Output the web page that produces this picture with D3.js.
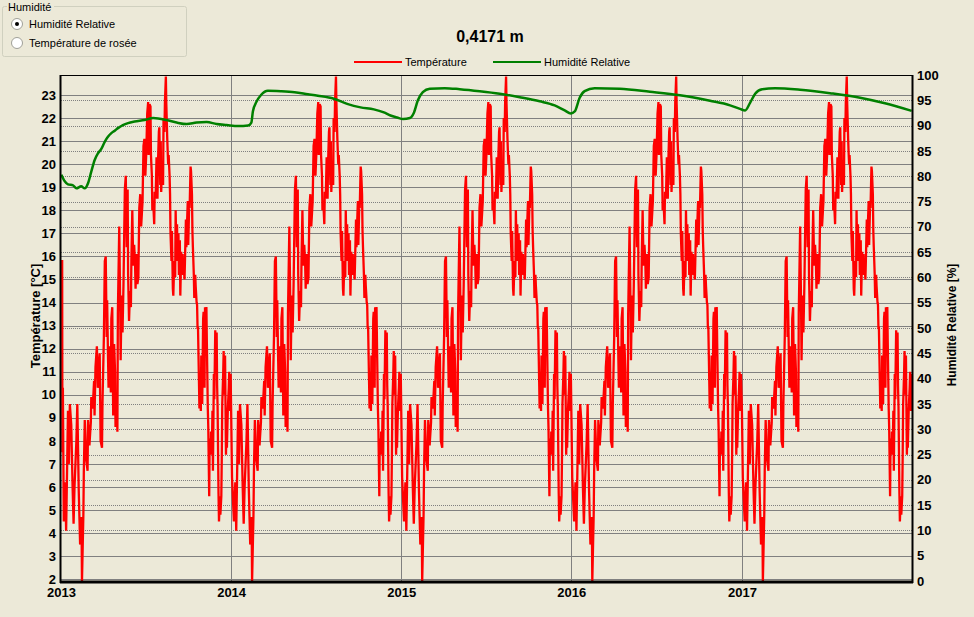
<!DOCTYPE html>
<html><head><meta charset="utf-8">
<script src="https://cdn.jsdelivr.net/npm/d3@7"></script>
<style>
html,body{margin:0;padding:0;background:#ECE9D8;}
svg{display:block;font-family:"Liberation Sans",Arial,sans-serif;}
</style></head>
<body><svg id="c" width="974" height="617"></svg>
<script>
// ---------- data ----------
const chartTitle = "0,4171 m";
const years = [2013, 2014, 2015, 2016, 2017];
const tempTicks = [2,3,4,5,6,7,8,9,10,11,12,13,14,15,16,17,18,19,20,21,22,23];
const humTicks = [0,5,10,15,20,25,30,35,40,45,50,55,60,65,70,75,80,85,90,95,100];
// initial values of the first days of 2013 (day of year, °C)
const tempStartDays = [0, 2.5, 3, 4];
const tempStartVals = [15.8, 15.8, 7.5, 10.3];
// yearly climate temperature record (same record every year): day of year, °C
const tempDays = [0,2,6,9,11,15,17,19,22,25,27,29,33,35,38,41,44,45,48,49,51,54,57,58,61,64,65,68,71,72,74,77,79,83,85,88,89,92,94,96,98,99,101,102,104,107,108,110,112,114,116,117,120,121,122,125,127,128,130,132,134,137,139,141,143,144,146,148,150,151,153,155,157,159,160,162,164,166,168,170,172,175,177,179,181,183,185,187,188,190,192,193,195,196,198,200,201,203,205,207,208,210,211,213,214,215,217,219,220,222,223,225,226,228,229,230,231,233,234,235,237,238,240,241,243,245,246,248,249,250,252,253,255,256,258,259,261,262,263,265,266,268,269,271,272,273,275,276,278,279,281,282,283,284,285,286,288,289,291,292,293,294,296,297,298,300,301,303,305,306,308,309,311,312,313,315,316,318,319,321,322,324,325,326,328,329,331,332,334,335,336,338,339,341,342,344,345,346,348,349,351,352,354,355,356,358,360,361,363,364];
const tempYear = [9.4,6.4,4.5,6.2,4.1,9.3,7.0,9.6,8.7,5.9,4.4,6.0,8.0,9.6,5.9,3.5,4.7,1.9,4.8,6.7,8.9,7.2,6.7,8.9,7.8,8.8,9.9,9.4,10.6,9.1,11.2,12.1,10.3,11.8,8.0,7.7,9.6,12.5,15.8,16.0,12.5,14.1,11.5,10.3,12.1,10.1,13.3,13.8,9.1,12.2,11.0,8.6,9.3,8.4,13.5,17.3,13.8,11.5,14.3,12.7,14.7,18.9,19.5,16.4,18.9,15.2,13.2,14.5,13.8,15.8,18.0,15.6,16.5,15.6,14.6,16.1,14.8,15.1,18.1,18.7,17.3,18.4,20.8,21.1,19.5,20.5,22.2,22.7,20.4,22.6,22.5,20.4,19.5,18.0,18.3,17.4,18.8,18.5,20.3,18.5,20.0,21.4,21.6,19.1,21.0,18.8,20.1,19.1,22.0,21.4,22.7,23.8,22.6,21.1,20.5,20.0,20.4,19.5,18.7,17.0,15.8,17.1,14.6,14.3,15.8,15.1,18.0,15.8,17.4,15.8,17.0,15.2,16.7,14.3,16.2,15.5,16.1,15.2,15.8,15.0,15.8,17.6,16.4,17.8,18.4,16.5,18.2,18.1,19.9,19.7,18.7,17.1,16.4,15.8,15.2,14.2,15.2,14.7,14.0,13.9,12.9,12.9,10.6,9.4,11.0,9.3,11.7,9.6,13.3,13.6,10.3,13.8,12.7,13.8,12.2,9.4,8.6,5.6,8.1,7.4,8.4,8.0,9.3,6.7,10.9,9.8,12.8,11.6,12.7,10.4,9.5,5.7,4.5,5.6,4.8,5.6,7.3,9.6,10.9,11.9,10.0,11.7,7.4,8.7,7.7,9.4,10.3,11.0,9.3,10.9];
// relative humidity: time (fractional year) and %
const humTime = [2013.002,2013.022,2013.041,2013.071,2013.090,2013.119,2013.139,2013.159,2013.178,2013.198,2013.217,2013.237,2013.257,2013.276,2013.296,2013.316,2013.335,2013.364,2013.394,2013.433,2013.492,2013.542,2013.621,2013.680,2013.739,2013.797,2013.856,2013.915,2013.974,2014.042,2014.100,2014.119,2014.128,2014.149,2014.177,2014.216,2014.294,2014.373,2014.451,2014.510,2014.604,2014.682,2014.761,2014.839,2014.898,2014.937,2014.976,2015.011,2015.051,2015.074,2015.098,2015.127,2015.168,2015.256,2015.344,2015.462,2015.579,2015.697,2015.814,2015.902,2015.961,2015.997,2016.020,2016.049,2016.078,2016.137,2016.284,2016.461,2016.637,2016.813,2016.931,2016.989,2017.019,2017.048,2017.078,2017.119,2017.195,2017.342,2017.518,2017.695,2017.841,2017.998];
const humVals = [80.3,79.0,78.4,78.2,77.6,78.0,77.6,78.6,80.9,83.2,84.5,85.4,86.8,87.8,88.5,89.0,89.5,90.1,90.5,90.8,91.1,91.5,91.1,90.6,90.3,90.6,90.7,90.3,90.1,89.9,90.0,90.6,92.8,94.7,96.1,96.9,96.8,96.6,96.2,95.9,95.3,94.3,93.6,93.2,92.6,92.0,91.6,91.3,91.5,92.5,95.0,96.6,97.3,97.4,97.2,96.8,96.3,95.6,94.8,94.0,93.0,92.4,92.8,95.5,96.8,97.4,97.3,96.7,96.0,94.9,94.0,93.3,93.0,94.5,96.3,97.2,97.4,97.1,96.4,95.5,94.4,92.9];

// ---------- build series ----------
const DAY = 864e5;
const dayDate = (y, d) => new Date(Date.UTC(y, 0, 1) + d * DAY);
const tempSeries = [];
tempStartDays.forEach((d, i) => tempSeries.push({t: dayDate(years[0], d), v: tempStartVals[i]}));
years.forEach((y, yi) => {
  tempDays.forEach((d, i) => {
    if (yi === 0 && d <= tempStartDays[tempStartDays.length - 1]) return;
    tempSeries.push({t: dayDate(y, d), v: tempYear[i]});
  });
});
const fracDate = f => { const y = Math.floor(f); const s = Date.UTC(y,0,1), e = Date.UTC(y+1,0,1); return new Date(s + (f - y) * (e - s)); };
const humSeries = humTime.map((f, i) => ({t: fracDate(f), v: humVals[i]}));

// ---------- layout ----------
const svg = d3.select("#c");
const L = 61, R = 912, T = 75, B = 581;
const x = d3.scaleUtc().domain([new Date(Date.UTC(2013,0,1)), new Date(Date.UTC(2018,0,1))]).range([L, R]);
const yT = d3.scaleLinear().domain([1.92, 23.87]).range([B, T]);
const yH = d3.scaleLinear().domain([0, 100]).range([B, T]);

svg.append("rect").attr("width", 974).attr("height", 617).attr("fill", "#ECE9D8");

// group box
const gb = svg.append("g");
gb.append("rect").attr("x", 2.5).attr("y", 6.5).attr("width", 184).attr("height", 50).attr("fill", "none").attr("stroke", "#D0D0BF").attr("rx", 2);
gb.append("rect").attr("x", 7).attr("y", 1).attr("width", 47).attr("height", 12).attr("fill", "#ECE9D8");
gb.append("text").attr("x", 8).attr("y", 11).attr("font-size", 11).attr("fill", "#000").text("Humidité");
[[24, "Humidité Relative", true], [43, "Température de rosée", false]].forEach(([cy, label, sel]) => {
  gb.append("circle").attr("cx", 17).attr("cy", cy).attr("r", 5.5).attr("fill", "#fff").attr("stroke", "#A0A098");
  if (sel) gb.append("circle").attr("cx", 17).attr("cy", cy).attr("r", 2).attr("fill", "#000");
  gb.append("text").attr("x", 29).attr("y", cy + 4).attr("font-size", 11).attr("fill", "#000").text(label);
});

// title
svg.append("text").attr("x", 490).attr("y", 42).attr("text-anchor", "middle").attr("font-size", 16).attr("font-weight", "bold").attr("fill", "#000").text(chartTitle);

// legend
const leg = [{c: "#FF0000", t: "Température", x: 354}, {c: "#008000", t: "Humidité Relative", x: 493}];
leg.forEach(l => {
  svg.append("line").attr("x1", l.x).attr("x2", l.x + 48).attr("y1", 62).attr("y2", 62).attr("stroke", l.c).attr("stroke-width", 2);
  svg.append("text").attr("x", l.x + 51).attr("y", 66).attr("font-size", 11).attr("fill", "#000").text(l.t);
});

// gridlines
const grid = svg.append("g").attr("shape-rendering", "crispEdges");
grid.selectAll(".gt").data(tempTicks).join("line")
  .attr("x1", L).attr("x2", R).attr("y1", d => Math.round(yT(d)) + 0.5).attr("y2", d => Math.round(yT(d)) + 0.5)
  .attr("stroke", "#808080").attr("stroke-width", 1);
grid.selectAll(".gh").data(humTicks.filter(d => d > 0 && d < 100)).join("line")
  .attr("x1", L).attr("x2", R).attr("y1", d => Math.round(yH(d)) + 0.5).attr("y2", d => Math.round(yH(d)) + 0.5)
  .attr("stroke", "#808080").attr("stroke-width", 1).attr("stroke-dasharray", "1,1");
grid.selectAll(".gx").data(years.slice(1)).join("line")
  .attr("x1", d => Math.round(x(new Date(Date.UTC(d,0,1)))) + 0.5).attr("x2", d => Math.round(x(new Date(Date.UTC(d,0,1)))) + 0.5)
  .attr("y1", T).attr("y2", B).attr("stroke", "#808080").attr("stroke-width", 1);

// series
svg.append("clipPath").attr("id", "pc").append("rect").attr("x", L).attr("y", T).attr("width", R - L).attr("height", B - T);
const lineT = d3.line().x(d => x(d.t)).y(d => yT(d.v));
const lineH = d3.line().x(d => x(d.t)).y(d => yH(d.v)).curve(d3.curveMonotoneX);
svg.append("path").datum(tempSeries).attr("d", lineT).attr("fill", "none").attr("stroke", "#FF0000").attr("stroke-width", 2.3).attr("stroke-linejoin", "miter").attr("clip-path", "url(#pc)");
svg.append("path").datum(humSeries).attr("d", lineH).attr("fill", "none").attr("stroke", "#008000").attr("stroke-width", 2.5).attr("clip-path", "url(#pc)");

// frame
svg.append("line").attr("x1", L).attr("x2", R).attr("y1", T + 0.5).attr("y2", T + 0.5).attr("stroke", "#000").attr("stroke-width", 1);
svg.append("line").attr("x1", L - 1).attr("x2", R + 1).attr("y1", B + 1).attr("y2", B + 1).attr("stroke", "#000").attr("stroke-width", 3);
svg.append("line").attr("x1", L - 0.5).attr("x2", L - 0.5).attr("y1", T).attr("y2", B + 2).attr("stroke", "#000").attr("stroke-width", 2);
svg.append("line").attr("x1", R + 0.5).attr("x2", R + 0.5).attr("y1", T).attr("y2", B + 2).attr("stroke", "#000").attr("stroke-width", 2);

// axes (labels only, like the original)
const axL = d3.axisLeft(yT).tickValues(tempTicks).tickSize(0).tickPadding(4).tickFormat(d3.format("d"));
const axR = d3.axisRight(yH).tickValues(humTicks).tickSize(0).tickPadding(4).tickFormat(d3.format("d"));
const axB = d3.axisBottom(x).tickValues(years.map(y => new Date(Date.UTC(y,0,1)))).tickSize(0).tickPadding(7).tickFormat(d3.utcFormat("%Y"));
function styleAxis(g) {
  g.select(".domain").remove();
  g.selectAll("text").attr("font-family", "Liberation Sans, Arial, sans-serif").attr("font-size", 13).attr("font-weight", "bold").attr("fill", "#000");
}
svg.append("g").attr("transform", `translate(${L - 1},0)`).call(axL).call(styleAxis);
svg.append("g").attr("transform", `translate(${R + 1},0)`).call(axR).call(styleAxis);
svg.append("g").attr("transform", `translate(0,${B})`).call(axB).call(styleAxis);

// axis titles
svg.append("text").attr("transform", "translate(40,316) rotate(-90)").attr("text-anchor", "middle").attr("font-size", 13).attr("font-weight", "bold").attr("fill", "#000").text("Température [°C]");
svg.append("text").attr("transform", "translate(956,325) rotate(-90)").attr("text-anchor", "middle").attr("font-size", 12).attr("font-weight", "bold").attr("fill", "#000").text("Humidité Relative [%]");
</script>
</body></html>
